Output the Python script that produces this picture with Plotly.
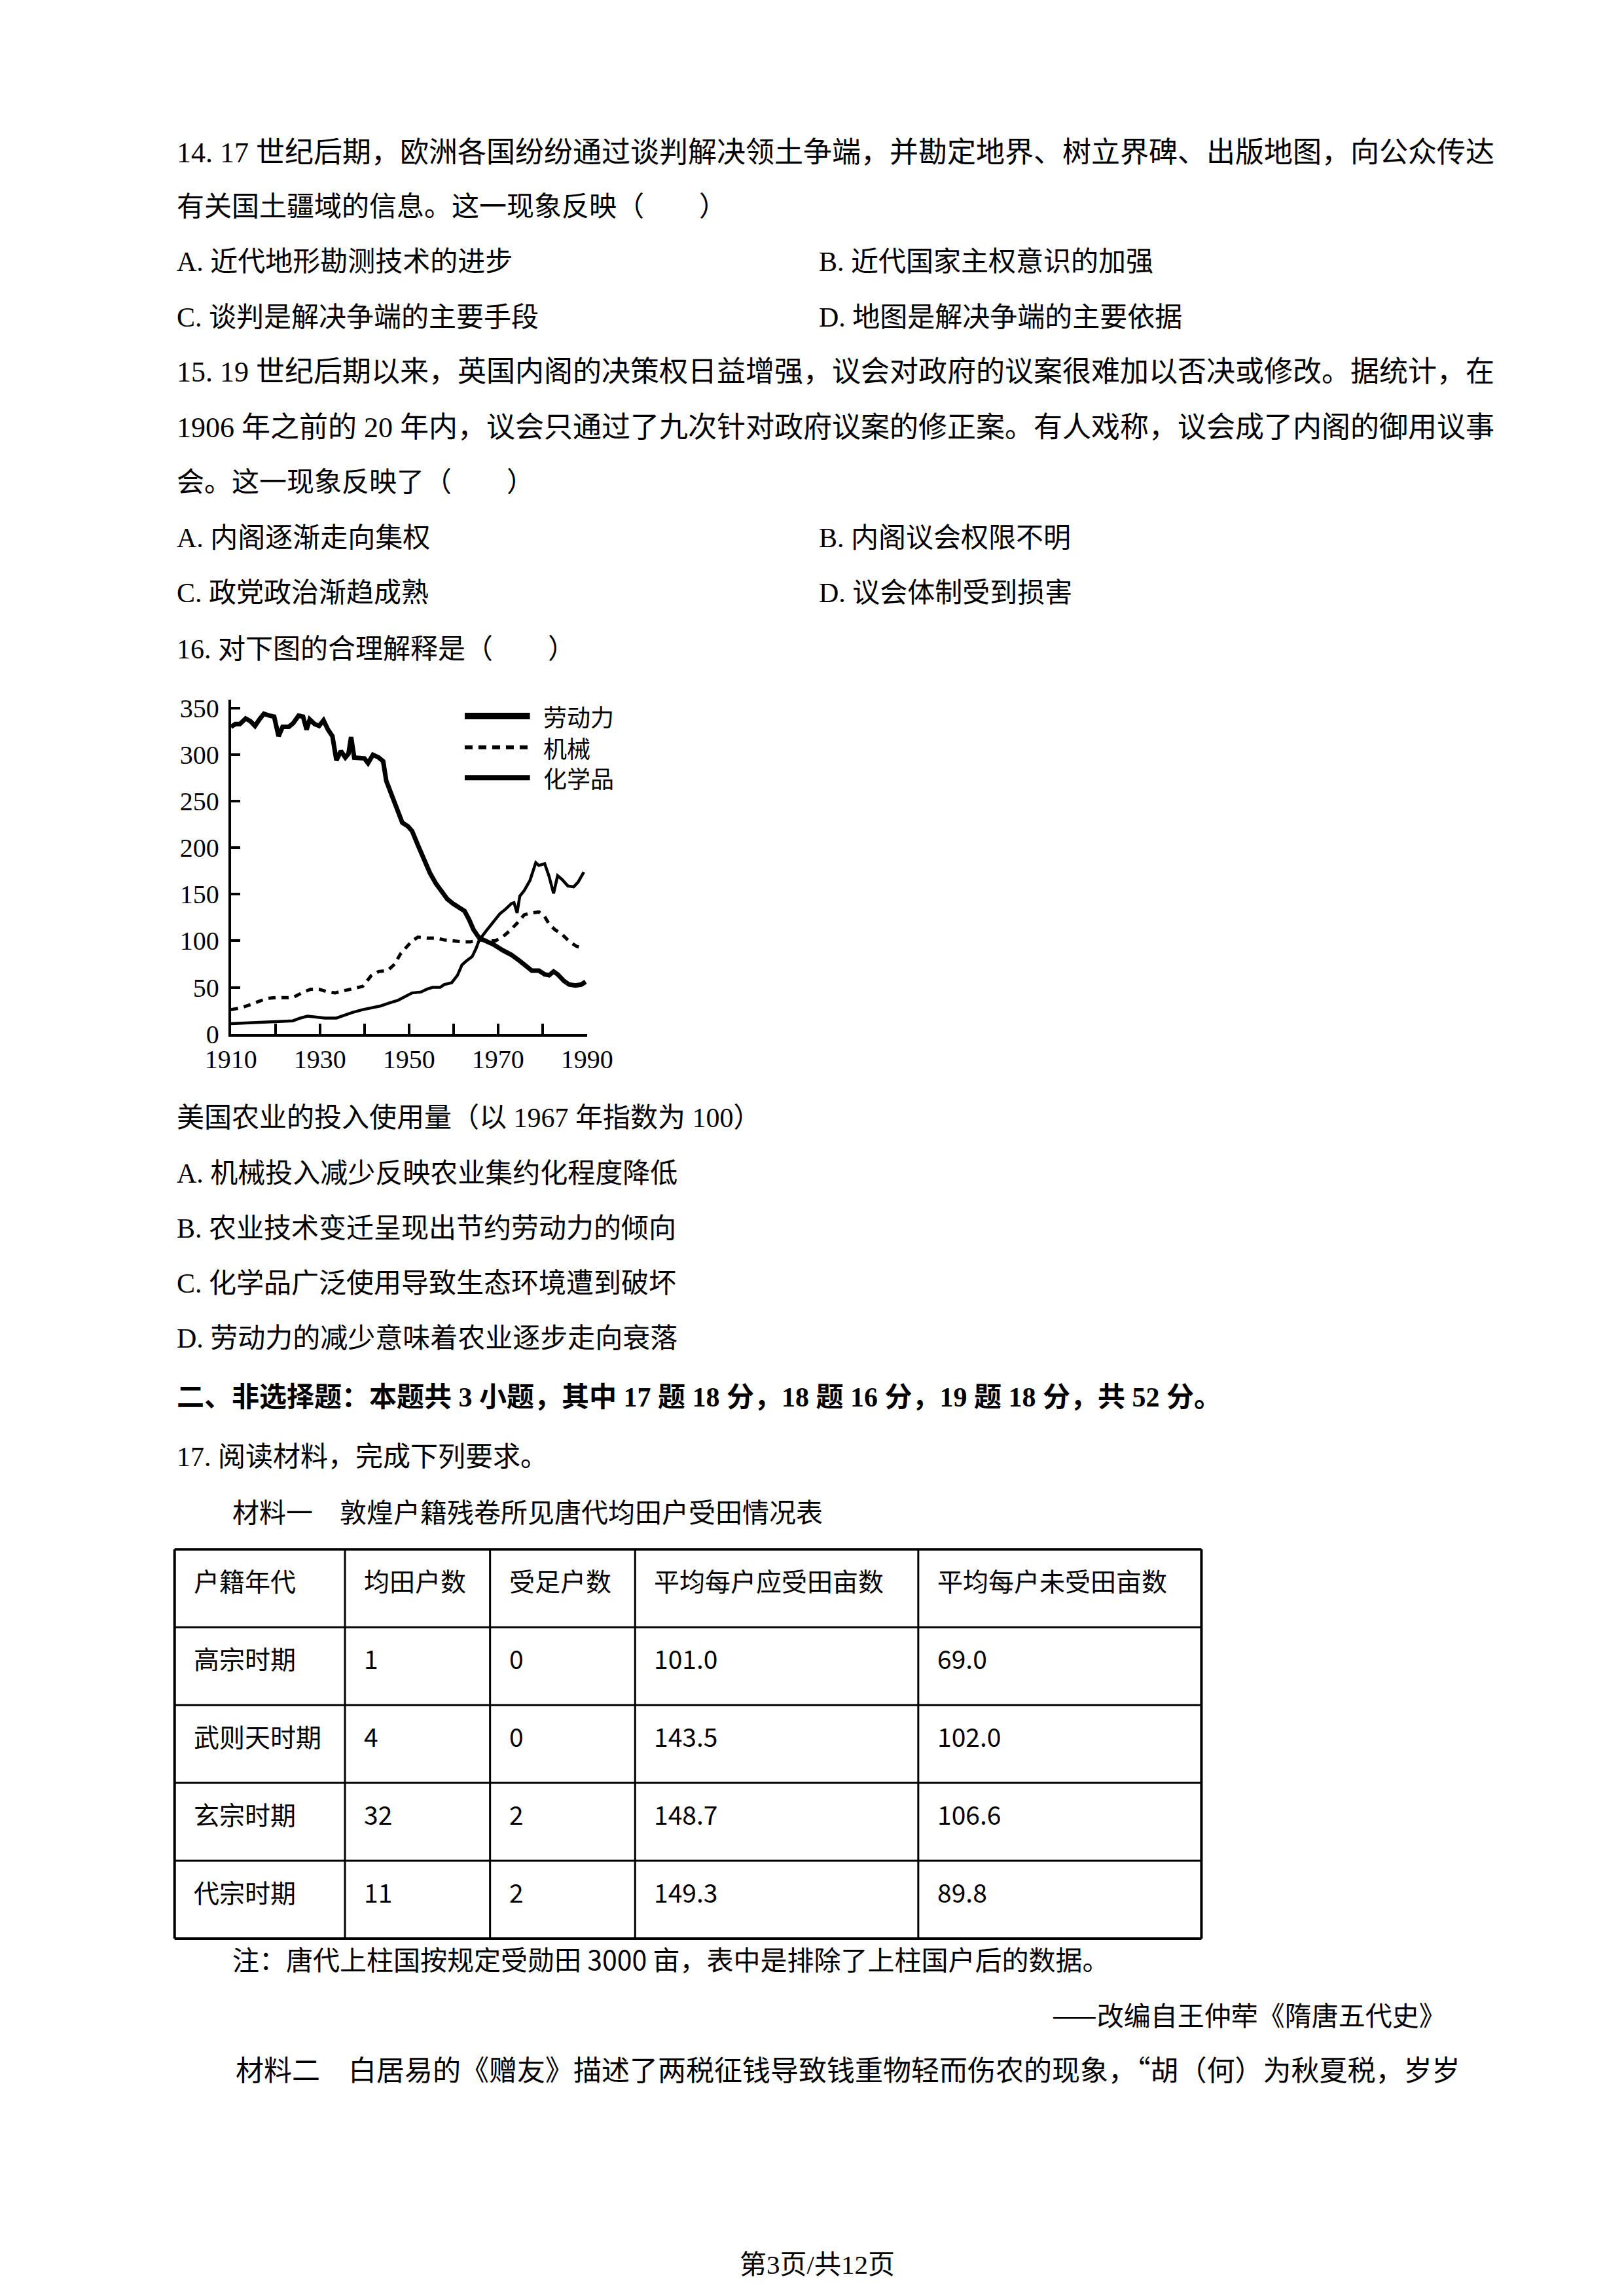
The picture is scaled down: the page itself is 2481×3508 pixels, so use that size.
import plotly.graph_objects as go

W, H = 2481, 3508

# ---- chart data: US farm input use (1967 = 100) ----
labor_years = [1910, 1911, 1912, 1913.3, 1914.4, 1915.4, 1916.4, 1917.4, 1918.7, 1919.7,
               1920.7, 1921.6, 1923, 1924, 1925.2, 1926.2, 1927, 1927.7, 1928.8, 1929.8,
               1930.8, 1931.8, 1932.8, 1933.7, 1934.7, 1935.7, 1936.4, 1937, 1937.7, 1939,
               1940, 1940.8, 1941.9, 1943.2, 1944.2, 1944.9, 1946.2, 1947.5, 1948.5, 1949.8,
               1950.7, 1952, 1953.4, 1954.7, 1956, 1957.3, 1958.6, 1959.9, 1961.2, 1962.5,
               1963.5, 1964.5, 1965.8, 1967.1, 1969, 1971, 1973, 1975, 1976.6, 1977.6,
               1979.2, 1980.5, 1981.5, 1982.5, 1983.4, 1984.8, 1986, 1987.4, 1988.7, 1989.7]
labor = [330, 333, 333, 339, 336, 331, 338, 344, 342, 341,
         320, 330, 330, 334, 342, 341, 327, 338, 333, 331,
         337, 327, 320, 294, 304, 297, 301, 319, 297, 297,
         296, 291, 300, 297, 293, 272, 256, 239, 227, 223,
         218, 203, 187, 173, 162, 154, 145, 140, 136, 132,
         123, 112, 103, 100, 96, 90, 85, 78, 71, 68,
         68, 64, 63, 67, 64, 57, 53, 52, 53, 56]

machine_years = [1910, 1912.2, 1914.1, 1916.1, 1918, 1920.1, 1922.3, 1923.9, 1925.9, 1927.9,
                 1929.8, 1931.8, 1933.4, 1935.7, 1937.7, 1939.6, 1941.6, 1943.2, 1945.2, 1946.8,
                 1948.1, 1949.4, 1950.7, 1952, 1954, 1956, 1957.9, 1959.9, 1961.9, 1963.8,
                 1965.8, 1967.7, 1969.4, 1971, 1972.7, 1974.3, 1975.9, 1977.6, 1979.2, 1980.5,
                 1981.5, 1982.8, 1984.4, 1986.1, 1987.7, 1988.4]
machine = [26, 28, 31, 35, 38, 39, 39, 39, 44, 48,
           48, 45, 44, 47, 49, 51, 63, 67, 68, 75,
           86, 93, 100, 104, 103, 103, 101, 100, 99, 99,
           101, 100, 100, 104, 111, 119, 128, 130, 131, 126,
           118, 112, 107, 99, 94, 93]

chem_years = [1910, 1915.1, 1920.1, 1923.9, 1925.6, 1927.2, 1929.2, 1931.1, 1933.7, 1935.4,
              1937.3, 1939.6, 1941.6, 1943.6, 1945.5, 1947.5, 1949.1, 1950.7, 1952.7, 1954,
              1955.3, 1957, 1957.9, 1959.6, 1960.9, 1961.9, 1962.8, 1964.2, 1965.1, 1965.8,
              1967.4, 1969.1, 1970.4, 1971.7, 1973, 1973.6, 1974.3, 1974.9, 1975.9, 1977.2,
              1977.8, 1978.5, 1979.2, 1980.5, 1981.5, 1982.5, 1983.4, 1984.4, 1985.7, 1987,
              1988, 1989.3]
chem = [11, 12, 13, 14, 17, 19, 18, 17, 17, 20,
        23, 26, 28, 30, 33, 36, 40, 44, 45, 48,
        50, 50, 53, 55, 63, 74, 78, 83, 92, 101,
        111, 121, 129, 134, 140, 141, 130, 148, 154, 165,
        173, 184, 181, 183, 169, 151, 170, 166, 159, 158,
        163, 174]

series_names = ["劳动力", "机械", "化学品"]
x_ticks = [1910, 1920, 1930, 1940, 1950, 1960, 1970, 1980, 1990]
x_labels = ["1910", "", "1930", "", "1950", "", "1970", "", "1990"]
y_ticks = [0, 50, 100, 150, 200, 250, 300, 350]

# ---- table data ----
table_header = ["户籍年代", "均田户数", "受足户数", "平均每户应受田亩数", "平均每户未受田亩数"]
periods = ["高宗时期", "武则天时期", "玄宗时期", "代宗时期"]
households = [1, 4, 32, 11]
sufficient = [0, 0, 2, 2]
avg_due = [101.0, 143.5, 148.7, 149.3]
avg_missing = [69.0, 102.0, 106.6, 89.8]


def px_x(x):
    return x / W


def px_y(y):
    return 1 - y / H


TEXT = "Liberation Serif, Noto Sans CJK SC"
KAI = "Noto Sans CJK SC"

fig = go.Figure()

fig.add_trace(go.Scatter(x=labor_years, y=labor, mode="lines", name=series_names[0],
                         line=dict(color="black", width=7)))
fig.add_trace(go.Scatter(x=machine_years, y=machine, mode="lines", name=series_names[1],
                         line=dict(color="black", width=5, dash="11px,9px")))
fig.add_trace(go.Scatter(x=chem_years, y=chem, mode="lines", name=series_names[2],
                         line=dict(color="black", width=4.5)))

shapes = []
annotations = []

# legend drawn by hand (long sample lines as in the figure)
legend_rows = [(1087, dict(color="black", width=10)),
               (1135, dict(color="black", width=6, dash="12px,9px")),
               (1182, dict(color="black", width=8))]
for name, (ly, lstyle) in zip(series_names, legend_rows):
    shapes.append(dict(type="line", xref="paper", yref="paper",
                       x0=px_x(684), x1=px_x(787), y0=px_y(ly), y1=px_y(ly), line=lstyle))
    annotations.append(dict(text=name, x=px_x(806), y=px_y(ly), xref="paper", yref="paper",
                            xanchor="left", yanchor="middle", showarrow=False,
                            font=dict(family=KAI, size=36, color="black")))

# ---- table (grid + cell texts) ----
col_w = [269, 229, 229, 447, 447]
row_h = 120
tab_left, tab_top = 226, 2372
rows = [table_header] + [
    [periods[i], str(households[i]), str(sufficient[i]), f"{avg_due[i]:.1f}", f"{avg_missing[i]:.1f}"]
    for i in range(len(periods))
]
col_edges = [tab_left]
for w in col_w:
    col_edges.append(col_edges[-1] + w)
row_edges = [tab_top + row_h * i for i in range(len(rows) + 1)]

for i, yy in enumerate(row_edges):
    lw = 4 if i in (0, len(row_edges) - 1) else 3
    shapes.append(dict(type="line", xref="paper", yref="paper",
                       x0=px_x(col_edges[0]), x1=px_x(col_edges[-1]), y0=px_y(yy), y1=px_y(yy),
                       line=dict(color="black", width=lw)))
for j, xx in enumerate(col_edges):
    lw = 4 if j in (0, len(col_edges) - 1) else 3
    shapes.append(dict(type="line", xref="paper", yref="paper",
                       x0=px_x(xx), x1=px_x(xx), y0=px_y(row_edges[0]), y1=px_y(row_edges[-1]),
                       line=dict(color="black", width=lw)))
for i, row in enumerate(rows):
    for j, val in enumerate(row):
        annotations.append(dict(text=val, x=px_x(col_edges[j] + 28), y=px_y(row_edges[i] + 47),
                                xref="paper", yref="paper", xanchor="left", yanchor="middle",
                                showarrow=False, font=dict(family=KAI, size=39, color="black")))

lines = [
    ("14. 17 世纪后期，欧洲各国纷纷通过谈判解决领土争端，并勘定地界、树立界碑、出版地图，向公众传达", 227, 218, 44, TEXT),
    ("有关国土疆域的信息。这一现象反映（　　）", 227, 302, 42, TEXT),
    ("A. 近代地形勘测技术的进步", 227, 387, 42, TEXT),
    ("B. 近代国家主权意识的加强", 1241, 387, 42, TEXT),
    ("C. 谈判是解决争端的主要手段", 227, 472, 42, TEXT),
    ("D. 地图是解决争端的主要依据", 1241, 472, 42, TEXT),
    ("15. 19 世纪后期以来，英国内阁的决策权日益增强，议会对政府的议案很难加以否决或修改。据统计，在", 227, 557, 44, TEXT),
    ("1906 年之前的 20 年内，议会只通过了九次针对政府议案的修正案。有人戏称，议会成了内阁的御用议事", 227, 642, 44, TEXT),
    ("会。这一现象反映了（　　）", 227, 727, 42, TEXT),
    ("A. 内阁逐渐走向集权", 227, 812, 42, TEXT),
    ("B. 内阁议会权限不明", 1241, 812, 42, TEXT),
    ("C. 政党政治渐趋成熟", 227, 897, 42, TEXT),
    ("D. 议会体制受到损害", 1241, 897, 42, TEXT),
    ("16. 对下图的合理解释是（　　）", 227, 984, 42, TEXT),
    ("美国农业的投入使用量（以 1967 年指数为 100）", 227, 1707, 42, TEXT),
    ("A. 机械投入减少反映农业集约化程度降低", 227, 1792, 42, TEXT),
    ("B. 农业技术变迁呈现出节约劳动力的倾向", 227, 1877, 42, TEXT),
    ("C. 化学品广泛使用导致生态环境遭到破坏", 227, 1962, 42, TEXT),
    ("D. 劳动力的减少意味着农业逐步走向衰落", 227, 2047, 42, TEXT),
    ("<b>二、非选择题：本题共 3 小题，其中 17 题 18 分，18 题 16 分，19 题 18 分，共 52 分。</b>", 227, 2137, 42, TEXT),
    ("17. 阅读材料，完成下列要求。", 227, 2229, 42, TEXT),
    ("材料一　敦煌户籍残卷所见唐代均田户受田情况表", 315, 2312, 41, KAI),
    ("注：唐代上柱国按规定受勋田 3000 亩，表中是排除了上柱国户后的数据。", 315, 3002, 41, KAI),
    ("材料二　白居易的《赠友》描述了两税征钱导致钱重物轻而伤农的现象，“胡（何）为秋夏税，岁岁", 320, 3172, 43, KAI),
]
for text, lx, ly, size, fam in lines:
    annotations.append(dict(text=text, x=px_x(lx), y=px_y(ly), xref="paper", yref="paper",
                            xanchor="left", yanchor="middle", showarrow=False,
                            font=dict(family=fam, size=size, color="black")))

annotations.append(dict(text="——改编自王仲荦《隋唐五代史》", x=px_x(2235), y=px_y(3088),
                        xref="paper", yref="paper", xanchor="right", yanchor="middle",
                        showarrow=False, font=dict(family=KAI, size=41, color="black")))
annotations.append(dict(text="第3页/共12页", x=px_x(1240), y=px_y(3475),
                        xref="paper", yref="paper", xanchor="center", yanchor="middle",
                        showarrow=False, font=dict(family=TEXT, size=41, color="black")))

fig.update_layout(
    width=W, height=H,
    margin=dict(l=0, r=0, t=0, b=0),
    paper_bgcolor="white", plot_bgcolor="white",
    showlegend=False,
    shapes=shapes,
    annotations=annotations,
    xaxis=dict(domain=[px_x(315), px_x(877)], range=[1910, 1990],
               tickvals=x_ticks, ticktext=x_labels,
               ticks="inside", ticklen=16, tickwidth=4, tickcolor="black",
               showline=True, linewidth=4, linecolor="black",
               showgrid=False, zeroline=False,
               tickfont=dict(family="Liberation Serif", size=40, color="black")),
    yaxis=dict(domain=[px_y(1577), px_y(1062)], range=[0, 359],
               tickvals=y_ticks,
               ticks="inside", ticklen=14, tickwidth=4, tickcolor="black",
               showline=True, linewidth=4, linecolor="black",
               showgrid=False, zeroline=False, ticklabelstandoff=6,
               tickfont=dict(family="Liberation Serif", size=40, color="black")),
)

fig.write_html("out.html")
